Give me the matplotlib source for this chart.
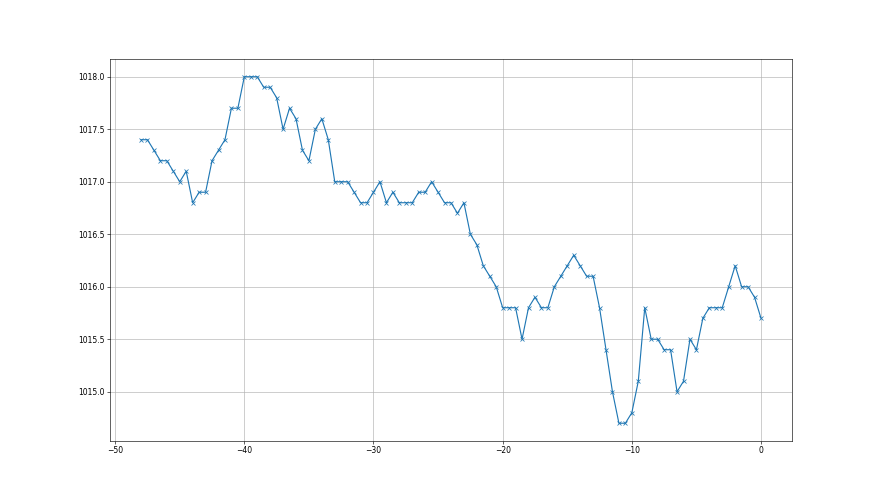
import numpy as np
import matplotlib
matplotlib.use("Agg")
import matplotlib.pyplot as plt

x = np.arange(-48, 0.01, 0.5)
pressure = [
    1017.4, 1017.4, 1017.3, 1017.2, 1017.2, 1017.1, 1017.0, 1017.1, 1016.8, 1016.9,
    1016.9, 1017.2, 1017.3, 1017.4, 1017.7, 1017.7, 1018.0, 1018.0, 1018.0, 1017.9,
    1017.9, 1017.8, 1017.5, 1017.7, 1017.6, 1017.3, 1017.2, 1017.5, 1017.6, 1017.4,
    1017.0, 1017.0, 1017.0, 1016.9, 1016.8, 1016.8, 1016.9, 1017.0, 1016.8, 1016.9,
    1016.8, 1016.8, 1016.8, 1016.9, 1016.9, 1017.0, 1016.9, 1016.8, 1016.8, 1016.7,
    1016.8, 1016.5, 1016.4, 1016.2, 1016.1, 1016.0, 1015.8, 1015.8, 1015.8, 1015.5,
    1015.8, 1015.9, 1015.8, 1015.8, 1016.0, 1016.1, 1016.2, 1016.3, 1016.2, 1016.1,
    1016.1, 1015.8, 1015.4, 1015.0, 1014.7, 1014.7, 1014.8, 1015.1, 1015.8, 1015.5,
    1015.5, 1015.4, 1015.4, 1015.0, 1015.1, 1015.5, 1015.4, 1015.7, 1015.8, 1015.8,
    1015.8, 1016.0, 1016.2, 1016.0, 1016.0, 1015.9, 1015.7,
]

fig, ax = plt.subplots(figsize=(16, 9), dpi=55)
ax.plot(x, pressure, marker='x', color='#1f77b4', linewidth=1.5, markersize=6)
ax.grid(True, color='#b0b0b0', linewidth=0.8)
ax.ticklabel_format(useOffset=False, axis='y')
fig.savefig("out.png", dpi=55)
